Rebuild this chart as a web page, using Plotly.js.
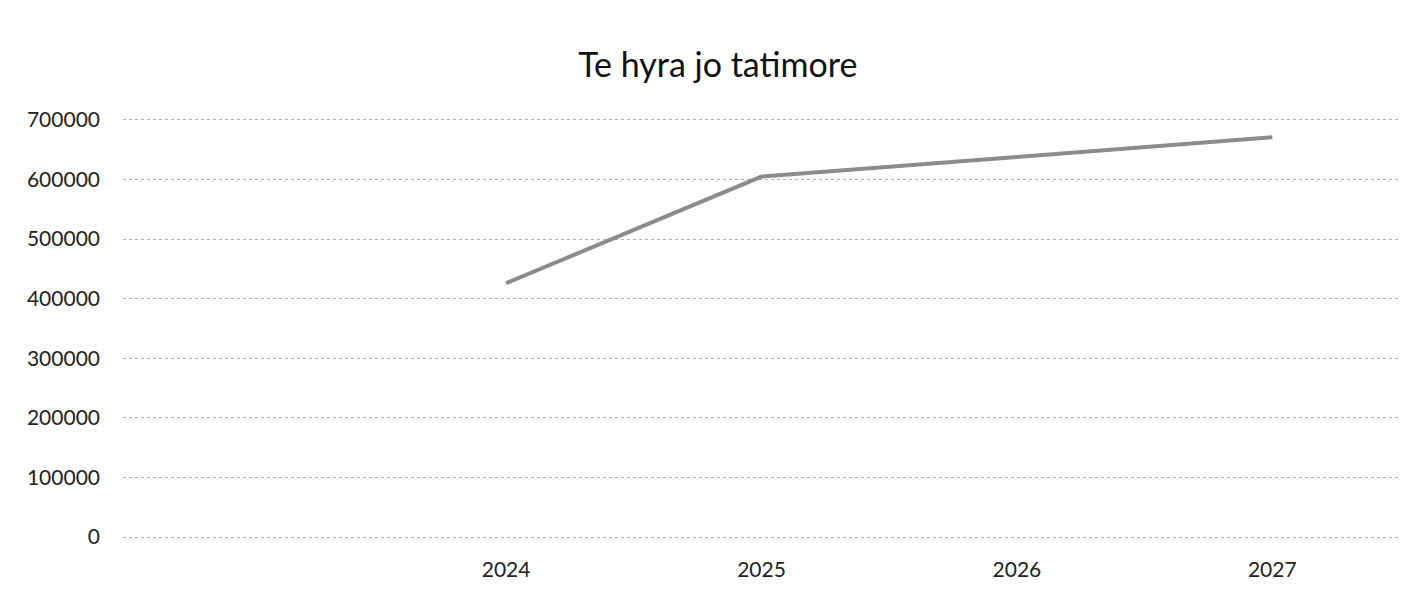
<!DOCTYPE html>
<html>
<head>
<meta charset="utf-8">
<script src="https://cdn.plot.ly/plotly-3.0.1.min.js"></script>
<style>html,body{margin:0;padding:0;background:#fff;}#chart{width:1427px;height:593px;}</style>
</head>
<body>
<div id="chart"></div>
<script>
const categories = [' ', '2024', '2025', '2026', '2027'];
const years = ['2024', '2025', '2026', '2027'];
const values = [426000, 605000, 638000, 671000];
const yTicks = [0, 100000, 200000, 300000, 400000, 500000, 600000, 700000];
const chartTitle = 'Te hyra jo tatimore';

const trace = {
  type: 'scatter',
  mode: 'lines',
  x: years,
  y: values,
  line: {color: '#8c8c8c', width: 4},
  hoverinfo: 'x+y'
};

const layout = {
  width: 1427,
  height: 593,
  paper_bgcolor: '#ffffff',
  plot_bgcolor: '#ffffff',
  margin: {l: 123, r: 27, t: 117, b: 53},
  showlegend: false,
  font: {family: 'Lato, "Open Sans", sans-serif', color: '#222222', size: 21},
  title: {
    text: chartTitle,
    x: 0.503, xanchor: 'center', xref: 'container',
    y: 0.89, yref: 'container', yanchor: 'middle',
    font: {family: 'Lato, "Open Sans", sans-serif', size: 34, color: '#111111'}
  },
  xaxis: {
    type: 'category',
    categoryorder: 'array',
    categoryarray: categories,
    range: [-0.5, 4.5],
    showgrid: false,
    zeroline: false,
    showline: false,
    ticks: '',
    ticklabelstandoff: 15,
    tickfont: {size: 21, color: '#222222'}
  },
  yaxis: {
    range: [-5000, 705000],
    tickvals: yTicks,
    ticktext: yTicks.map(String),
    showgrid: true,
    gridcolor: '#b0b0b0',
    griddash: 'dot',
    gridwidth: 1,
    zeroline: false,
    showline: false,
    ticks: '',
    ticklabelstandoff: 22,
    tickfont: {size: 21, color: '#222222'}
  }
};

Plotly.newPlot('chart', [trace], layout, {displayModeBar: false, staticPlot: true});
</script>
</body>
</html>
